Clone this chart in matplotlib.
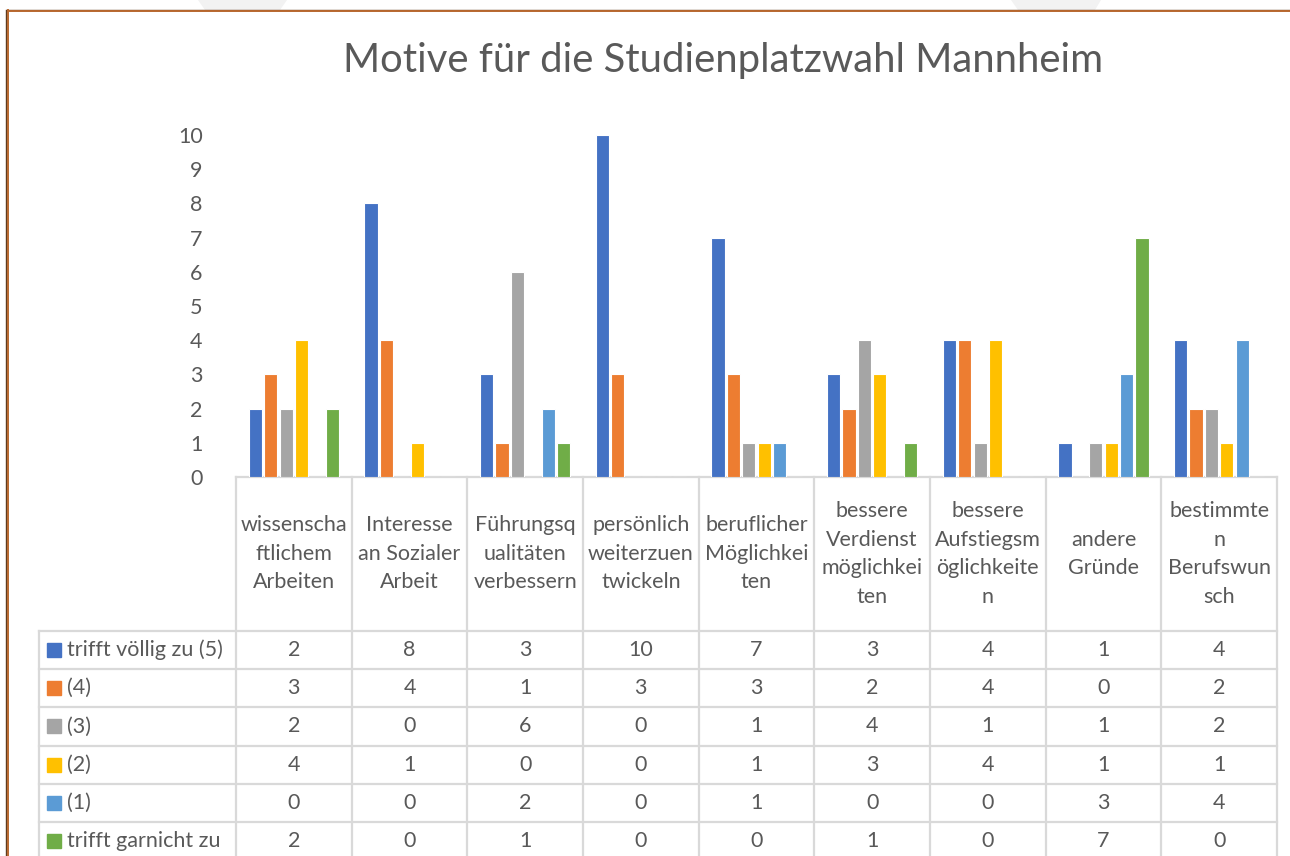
import matplotlib
matplotlib.use("Agg")
import matplotlib.pyplot as plt
from matplotlib.lines import Line2D
from matplotlib.patches import Polygon
import numpy as np

categories = [
    "wissenscha\nftlichem\nArbeiten",
    "Interesse\nan Sozialer\nArbeit",
    "Führungsq\nualitäten\nverbessern",
    "persönlich\nweiterzuen\ntwickeln",
    "beruflicher\nMöglichkei\nten",
    "bessere\nVerdienst\nmöglichkei\nten",
    "bessere\nAufstiegsm\nöglichkeite\nn",
    "andere\nGründe",
    "bestimmte\nn\nBerufswun\nsch",
]
series_names = ["trifft völlig zu (5)", "(4)", "(3)", "(2)", "(1)", "trifft garnicht zu"]
s5 = [2, 8, 3, 10, 7, 3, 4, 1, 4]
s4 = [3, 4, 1, 3, 3, 2, 4, 0, 2]
s3 = [2, 0, 6, 0, 1, 4, 1, 1, 2]
s2 = [4, 1, 0, 0, 1, 3, 4, 1, 1]
s1 = [0, 0, 2, 0, 1, 0, 0, 3, 4]
s0 = [2, 0, 1, 0, 0, 1, 0, 7, 0]
series = [s5, s4, s3, s2, s1, s0]
colors = ["#4472C4", "#ED7D31", "#A5A5A5", "#FFC000", "#5B9BD5", "#70AD47"]
title = "Motive für die Studienplatzwahl Mannheim"
yticks = list(range(0, 11))

W, H = 1290, 856
FONT = "Lato"
TXT = "#595959"
GRID = "#D9D9D9"
fs = 15.5

fig = plt.figure(figsize=(W / 100, H / 100), dpi=100)
fig.patch.set_facecolor("white")

# geometry (pixels)
x_left, x_right = 236, 1277
y_zero, y_top = 477, 135
tab_left = 39
row_tops = [630.7, 669, 707.3, 745.7, 784, 822.3]
row_h = 38.3

# overlay axes in pixel coordinates
ov = fig.add_axes([0, 0, 1, 1])
ov.set_xlim(0, W)
ov.set_ylim(H, 0)
ov.axis("off")

# faint background shapes at the top edge
for (a, b, c, d) in [(198, 287, 280, 205), (1011, 1101, 1095, 1018)]:
    ov.add_patch(Polygon([(a, 0), (b, 0), (c, 10), (d, 10)], closed=True,
                         facecolor="#F2F2F2", edgecolor="none"))

# main chart axes
ax = fig.add_axes([x_left / W, 1 - y_zero / H, (x_right - x_left) / W, (y_zero - y_top) / H])
ax.set_xlim(0, len(categories))
ax.set_ylim(0, 10)
for s in ax.spines.values():
    s.set_visible(False)
ax.set_xticks([])
ax.set_yticks(yticks)
ax.set_yticklabels([str(t) for t in yticks], fontsize=fs, color=TXT, family=FONT)
ax.tick_params(axis="y", length=0, pad=24)
ax.patch.set_alpha(0)

step = 0.133
width = 0.114
x = np.arange(len(categories)) + 0.5
for k, (vals, c) in enumerate(zip(series, colors)):
    ax.bar(x + (k - 2.5) * step, vals, width=width, color=c, edgecolor="white", linewidth=0.8, zorder=3)

# title
ov.text(723, 60, title, ha="center", va="center", fontsize=28.8, color=TXT, family=FONT)

# table
col_w = (x_right - x_left) / len(categories)
col_edges = [x_left + i * col_w for i in range(len(categories) + 1)]
lw = 1.6
ov.add_line(Line2D([x_left, x_right], [y_zero, y_zero], color=GRID, lw=lw))
for yt in row_tops:
    ov.add_line(Line2D([tab_left, x_right], [yt, yt], color=GRID, lw=lw))
ov.add_line(Line2D([tab_left, tab_left], [row_tops[0], H + 5], color=GRID, lw=lw))
for xe in col_edges:
    ov.add_line(Line2D([xe, xe], [y_zero, H + 5], color=GRID, lw=lw))

# header labels
hdr_c = (y_zero + row_tops[0]) / 2
for i, cat in enumerate(categories):
    cx = (col_edges[i] + col_edges[i + 1]) / 2
    ov.text(cx, hdr_c, cat, ha="center", va="center", fontsize=fs, color=TXT,
            family=FONT, linespacing=1.53, multialignment="center")

# rows
for r, (name, vals, c) in enumerate(zip(series_names, series, colors)):
    cy = row_tops[r] + row_h / 2
    ov.add_patch(plt.Rectangle((47, cy - 7), 14, 14, color=c))
    ov.text(67, cy, name, ha="left", va="center", fontsize=fs, color=TXT, family=FONT)
    for i, v in enumerate(vals):
        cx = (col_edges[i] + col_edges[i + 1]) / 2
        ov.text(cx, cy, str(v), ha="center", va="center", fontsize=fs, color=TXT, family=FONT)

# brown frame (double tone)
ov.add_line(Line2D([7, W + 5], [9.6, 9.6], color="#5E3A1E", lw=1.0))
ov.add_line(Line2D([7, W + 5], [11.0, 11.0], color="#B8682F", lw=1.4))
ov.add_line(Line2D([6.4, 6.4], [10, H + 5], color="#5E3A1E", lw=1.0))
ov.add_line(Line2D([7.8, 7.8], [10, H + 5], color="#B8682F", lw=1.4))

fig.savefig("out.png", dpi=100, facecolor="white")
